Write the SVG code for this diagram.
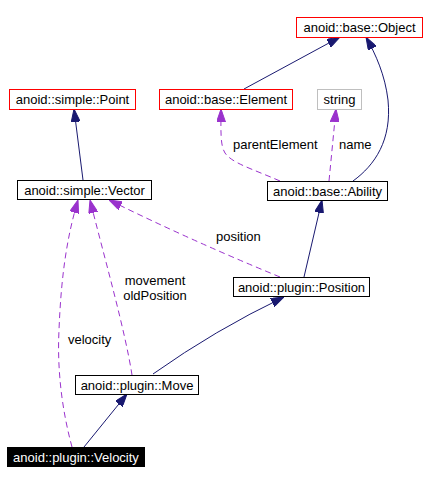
<svg xmlns="http://www.w3.org/2000/svg" width="438" height="484" viewBox="0 0 438 484">
<style>
text{font-family:"Liberation Sans",Arial,sans-serif;font-size:13px;fill:#000}
.n rect{fill:#fff;stroke:#000;stroke-width:1}
.red rect{stroke:#ff0000}
.gray rect{stroke:#bfbfbf}
.cur rect{fill:#000;stroke:#000}
.cur text{fill:#fff}
.n text{text-anchor:middle}
.inh{fill:none;stroke:#191970;stroke-width:1;marker-end:url(#ab)}
.use{fill:none;stroke:#9a32cd;stroke-width:1;stroke-dasharray:6,4;marker-end:url(#ap)}
</style>
<defs>
<marker id="ab" viewBox="0 0 13 9" refX="13" refY="4.5" markerWidth="13" markerHeight="9" markerUnits="userSpaceOnUse" orient="auto"><path d="M0,0 L13,4.5 L0,9 z" fill="#191970" stroke="#191970"/></marker>
<marker id="ap" viewBox="0 0 13 9" refX="13" refY="4.5" markerWidth="13" markerHeight="9" markerUnits="userSpaceOnUse" orient="auto"><path d="M0,0 L13,4.5 L0,9 z" fill="#9a32cd" stroke="#9a32cd"/></marker>
</defs>
<rect width="438" height="484" fill="#fff"/>
<g id="edges">
<path class="inh" d="M244,89 L340,37"/>
<path class="inh" d="M353,181 C375,165 392,140 388,100 C385,75 376,55 366,37"/>
<path class="inh" d="M83,180 L74,109"/>
<path class="inh" d="M304,277 L322,200"/>
<path class="inh" d="M153,374 Q215,330 284,297"/>
<path class="inh" d="M84,447 L127,394"/>
<path class="use" d="M280,181 C250,168 232,163 225,153 C220,145 221,130 221,109"/>
<path class="use" d="M329,181 L336,109"/>
<path class="use" d="M280,277 Q190,240 109,200"/>
<path class="use" d="M132,375 C125,330 105,260 90,200"/>
<path class="use" d="M72,447 C62,410 57,370 59,330 C61,280 66,240 78,200"/>
<text x="233" y="149">parentElement</text>
<text x="339" y="149">name</text>
<text x="216" y="241">position</text>
<text x="155" y="285" text-anchor="middle">movement</text>
<text x="155" y="300" text-anchor="middle">oldPosition</text>
<text x="68" y="344">velocity</text>
</g>
<g id="Object" class="n red"><rect x="296.5" y="17.5" width="126" height="20"/><text x="359.5" y="32">anoid::base::Object</text></g>
<g id="Point" class="n red"><rect x="9.5" y="89.5" width="126" height="20"/><text x="72.5" y="104">anoid::simple::Point</text></g>
<g id="Element" class="n red"><rect x="159.5" y="89.5" width="133" height="20"/><text x="226" y="104">anoid::base::Element</text></g>
<g id="string" class="n gray"><rect x="317.5" y="89.5" width="44" height="20"/><text x="339.5" y="104">string</text></g>
<g id="Vector" class="n"><rect x="17.5" y="180.5" width="134" height="19"/><text x="84.5" y="194.5">anoid::simple::Vector</text></g>
<g id="Ability" class="n"><rect x="267.5" y="181.5" width="120" height="19"/><text x="327.5" y="195.5">anoid::base::Ability</text></g>
<g id="Position" class="n"><rect x="233.5" y="277.5" width="136" height="19"/><text x="301.5" y="291.5">anoid::plugin::Position</text></g>
<g id="Move" class="n"><rect x="75.5" y="375.5" width="123" height="19"/><text x="137" y="389.5">anoid::plugin::Move</text></g>
<g id="Velocity" class="n cur"><rect x="7.5" y="447.5" width="137" height="19"/><text x="76" y="461.5">anoid::plugin::Velocity</text></g>
</svg>
